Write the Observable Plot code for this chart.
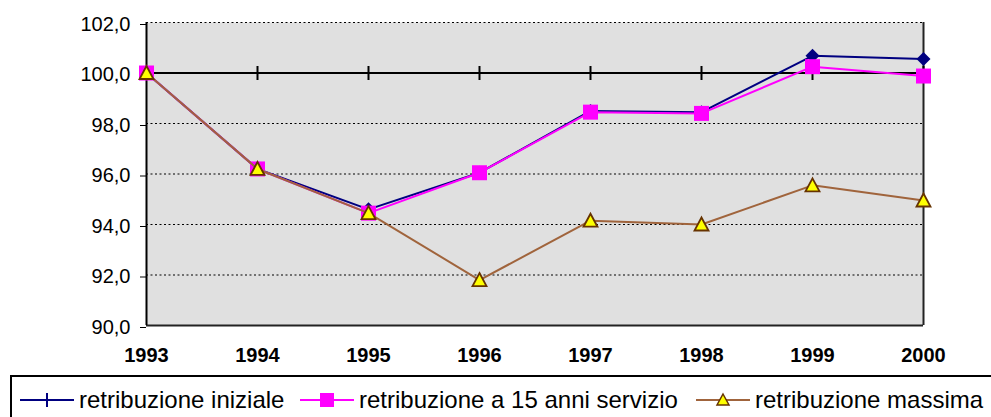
<!DOCTYPE html>
<html>
<head>
<meta charset="utf-8">
<script src="https://cdn.jsdelivr.net/npm/d3@7"></script>
<script src="https://cdn.jsdelivr.net/npm/@observablehq/plot@0.6"></script>
<style>
  html, body { margin: 0; padding: 0; background: #fff; }
  #chart { position: absolute; left: 0; top: 0; }
  #legend { position: absolute; left: 10px; top: 375px; width: 995px; height: 60px;
    border: 2px solid #000; box-sizing: border-box;
    font-family: 'Liberation Sans', Arial, sans-serif; font-size: 24px; color: #000; }
  .item { position: absolute; top: 8px; height: 30px; display: flex; align-items: center; white-space: nowrap; }
  .item svg { margin-right: 5px; }
</style>
</head>
<body>
<div id="chart"></div>
<div id="legend">
  <div class="item" style="left:8px">
    <svg width="54" height="20"><line x1="0" y1="10" x2="54" y2="10" stroke="#000080" stroke-width="2"/><line x1="27" y1="3" x2="27" y2="17" stroke="#000080" stroke-width="2"/></svg>
    <span>retribuzione iniziale</span>
  </div>
  <div class="item" style="left:288px">
    <svg width="54" height="20"><line x1="0" y1="10" x2="54" y2="10" stroke="#ff00ff" stroke-width="2"/><rect x="20" y="3" width="14" height="14" fill="#ff00ff"/></svg>
    <span>retribuzione a 15 anni servizio</span>
  </div>
  <div class="item" style="left:684px">
    <svg width="54" height="20"><line x1="0" y1="10" x2="54" y2="10" stroke="#a0643c" stroke-width="2"/><path d="M27,4 L33,15 L21,15 Z" fill="#ffff00" stroke="#663300" stroke-width="1.5"/></svg>
    <span>retribuzione massima</span>
  </div>
</div>
<script>
const years = [1993, 1994, 1995, 1996, 1997, 1998, 1999, 2000];
const iniziale = [100.0, 96.2, 94.6, 96.05, 98.5, 98.45, 100.68, 100.55];
const quindici = [100.0, 96.2, 94.45, 96.05, 98.45, 98.4, 100.25, 99.88];
const massima = [100.0, 96.2, 94.45, 91.8, 94.15, 94.0, 95.55, 94.95];
const yTicks = [90, 92, 94, 96, 98, 100, 102];
const gridValues = [92, 94, 96, 98, 102];
const baseline = 100;

const table = years.map((year, i) => ({
  year, iniziale: iniziale[i], quindici: quindici[i], massima: massima[i], base: baseline
}));

const vtick = { draw(ctx) { ctx.moveTo(0, -7); ctx.lineTo(0, 7); } };
const diamond = { draw(ctx) { ctx.moveTo(0, -7); ctx.lineTo(7, 0); ctx.lineTo(0, 7); ctx.lineTo(-7, 0); ctx.closePath(); } };
const square = { draw(ctx) { ctx.rect(-7.5, -7.5, 15, 15); } };
const triangle = { draw(ctx) { ctx.moveTo(0, -7); ctx.lineTo(7, 6); ctx.lineTo(-7, 6); ctx.closePath(); } };

const chart = Plot.plot({
  width: 991,
  height: 372,
  marginTop: 22,
  marginBottom: 47,
  marginLeft: 146,
  marginRight: 68,
  style: { fontFamily: "'Liberation Sans', Arial, sans-serif", fontSize: "20px", color: "#000", background: "#fff" },
  x: { domain: [1993, 2000] },
  y: { domain: [90, 102] },
  marks: [
    Plot.frame({ fill: "#e0e0e0", stroke: "none" }),
    Plot.ruleY(gridValues, { stroke: "#000", strokeWidth: 1.2, strokeDasharray: "2,2.5" }),
    Plot.ruleY([90], { stroke: "#222", strokeWidth: 2 }),
    Plot.ruleX([2000], { stroke: "#222", strokeWidth: 2 }),
    Plot.ruleX([1993], { stroke: "#000", strokeWidth: 2 }),
    Plot.ruleY([baseline], { stroke: "#000", strokeWidth: 2 }),
    Plot.dot(table, { x: "year", y: "base", symbol: vtick, fill: "none", stroke: "#000", strokeWidth: 2 }),
    Plot.axisY(yTicks, {
      tickSize: 6, tickPadding: 10, dy: 2, fontSize: 20,
      tickFormat: d => d.toFixed(1).replace(".", ","), label: null
    }),
    Plot.axisX(years, {
      anchor: "bottom", tickSize: 0, tickPadding: 22, fontSize: 20, fontWeight: "bold",
      tickFormat: d => String(d), label: null
    }),
    Plot.line(table, { x: "year", y: "iniziale", stroke: "#000080", strokeWidth: 2 }),
    Plot.dot(table, { x: "year", y: "iniziale", symbol: diamond, fill: "#000080", stroke: "none" }),
    Plot.line(table, { x: "year", y: "quindici", stroke: "#ff00ff", strokeWidth: 2 }),
    Plot.dot(table, { x: "year", y: "quindici", symbol: square, fill: "#ff00ff", stroke: "none" }),
    Plot.line(table, { x: "year", y: "massima", stroke: "#a0643c", strokeWidth: 2 }),
    Plot.dot(table, { x: "year", y: "massima", symbol: triangle, fill: "#ffff00", stroke: "#663300", strokeWidth: 1.8 })
  ]
});
document.getElementById("chart").appendChild(chart);
</script>
</body>
</html>
